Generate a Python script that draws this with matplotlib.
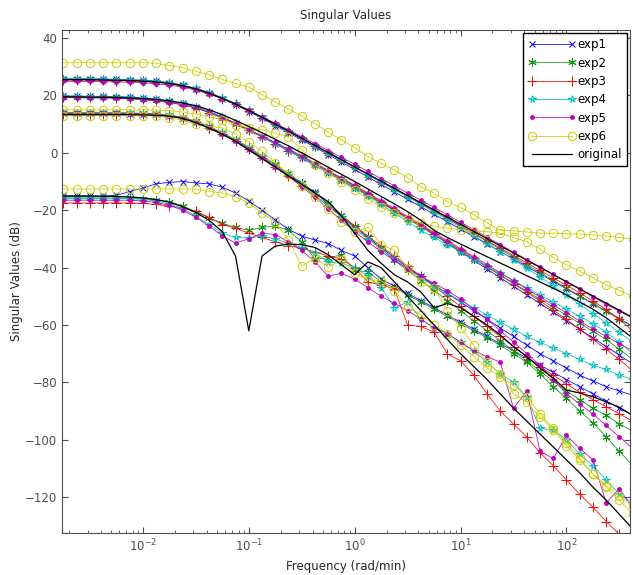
import matplotlib
matplotlib.use('Agg')
import matplotlib.pyplot as plt
import numpy as np

# frequency grid, log10(rad/min)
log_w = [-2.75, -2.625, -2.5, -2.375, -2.25, -2.125, -2.0, -1.875, -1.75, -1.625,
         -1.5, -1.375, -1.25, -1.125, -1.0, -0.875, -0.75, -0.625, -0.5, -0.375,
         -0.25, -0.125, 0.0, 0.125, 0.25, 0.375, 0.5, 0.625, 0.75, 0.875,
         1.0, 1.125, 1.25, 1.375, 1.5, 1.625, 1.75, 1.875, 2.0, 2.125,
         2.25, 2.375, 2.5, 2.625]

# singular values (dB), 4 per model
exp1 = [
    [25.8,25.8,25.8,25.7,25.6,25.5,25.3,25.0,24.4,23.6,22.4,20.8,18.9,16.8,14.4,12.0,9.5,7.0,4.5,2.0,-0.6,-3.2,-5.8,-8.4,-11.0,-13.6,-16.2,-18.8,-21.4,-24.0,-26.6,-29.2,-31.8,-34.4,-37.0,-39.6,-42.2,-44.8,-47.4,-50.0,-52.6,-55.2,-57.8,-60.4],
    [19.8,19.8,19.7,19.7,19.6,19.4,19.1,18.7,18.1,17.2,16.0,14.4,12.5,10.3,8.0,5.6,3.2,0.7,-1.8,-4.4,-7.0,-9.6,-12.2,-14.8,-17.4,-20.0,-22.6,-25.2,-28.5,-31.5,-34.5,-37.5,-40.5,-43.5,-46.5,-49.5,-52.5,-55.5,-58.5,-61.5,-64.5,-67.5,-70.5,-73.5],
    [13.8,13.8,13.8,13.8,13.8,13.7,13.6,13.4,13.0,12.2,10.8,8.9,6.8,4.3,1.5,-1.5,-4.5,-7.5,-10.5,-13.8,-18,-22,-26,-29.5,-33,-36.5,-40,-43,-46,-49,-52,-55,-58,-61,-64,-67,-70,-72.5,-75,-77.5,-79.5,-81.5,-83,-84.5],
    [-15.2,-15.2,-15.2,-15.1,-14.8,-13.5,-12.3,-10.8,-10.3,-10.0,-10.5,-10.8,-12.0,-14.0,-16.8,-20.0,-23.4,-26.7,-29.0,-30.4,-31.6,-34.0,-36.0,-40.0,-44.0,-46.5,-49.0,-51.5,-54.0,-56.5,-59.0,-61.5,-64.0,-66.5,-69.0,-71.5,-74.0,-76.5,-79.0,-81.5,-84.0,-86.5,-89.0,-91.5],
]
exp2 = [
    [25.6,25.6,25.6,25.5,25.4,25.3,25.1,24.8,24.3,23.5,22.4,20.9,19.1,17.1,14.8,12.4,9.9,7.4,4.9,2.4,-0.1,-2.6,-5.1,-7.6,-10.1,-12.6,-15.1,-17.6,-20.1,-22.8,-25.5,-28.2,-30.9,-33.6,-36.3,-39.0,-41.7,-44.4,-47.1,-49.8,-52.5,-55.2,-57.9,-60.6],
    [19.6,19.6,19.5,19.5,19.4,19.2,18.9,18.5,17.9,17.0,15.8,14.2,12.3,10.2,8.0,5.8,3.5,1.2,-1.2,-3.8,-6.4,-9.0,-11.8,-14.6,-17.4,-20.2,-23.0,-25.8,-28.6,-31.4,-34.2,-37.0,-39.8,-42.6,-45.4,-48.2,-51.0,-53.8,-56.6,-59.4,-62.2,-65.0,-68.5,-72.0],
    [14.0,14.0,14.0,14.0,14.0,13.9,13.8,13.6,13.2,12.4,11.0,9.2,7.0,4.6,2.0,-1.0,-4.0,-7.2,-10.5,-14.0,-17.5,-21.5,-25.5,-29.5,-33.5,-37.5,-41.0,-44.5,-48.0,-51.5,-55.0,-58.5,-62.0,-65.5,-69.0,-72.5,-76.0,-79.5,-83.0,-86.0,-89.0,-91.5,-94.5,-97.0],
    [-15.7,-15.7,-15.7,-15.7,-15.7,-15.8,-16.0,-16.4,-17.0,-18.5,-20.5,-22.7,-24.5,-26.0,-27.0,-26.0,-25.5,-27.0,-31.0,-37.0,-36.6,-35.6,-41.0,-41.5,-45.0,-47.0,-49.5,-52.0,-54.5,-57.0,-59.5,-62.0,-64.5,-67.0,-70.0,-73.0,-77.0,-81.5,-85.5,-90.0,-94.0,-99.0,-104.0,-109.0],
]
exp3 = [
    [25.4,25.4,25.4,25.3,25.2,25.1,24.9,24.6,24.1,23.3,22.2,20.7,18.9,16.9,14.6,12.3,9.9,7.5,5.0,2.5,0.0,-2.5,-5.0,-7.5,-10.0,-12.5,-15.0,-17.6,-20.2,-22.8,-25.4,-28.0,-30.6,-33.2,-35.8,-38.4,-41.0,-43.6,-46.2,-48.8,-51.6,-54.6,-58.0,-62.0],
    [19.4,19.4,19.3,19.3,19.2,19.0,18.7,18.3,17.7,16.8,15.6,14.0,12.1,10.0,7.8,5.5,3.2,0.8,-1.6,-4.0,-6.5,-9.0,-11.5,-14.2,-17.0,-19.8,-22.6,-25.4,-28.2,-31.0,-33.8,-36.6,-39.6,-42.6,-45.6,-48.6,-51.6,-54.8,-58.0,-61.5,-65.0,-68.5,-72.0,-76.0],
    [13.6,13.6,13.6,13.6,13.6,13.5,13.4,13.2,12.8,12.0,10.6,8.7,6.5,4.0,1.2,-1.8,-5.0,-8.2,-11.5,-15.0,-18.5,-22.0,-25.5,-29.0,-32.5,-36.0,-39.5,-43.0,-46.5,-50.0,-53.5,-57.0,-60.5,-64.0,-67.5,-71.0,-74.5,-77.5,-80.5,-83.5,-86.0,-88.5,-91.0,-93.5],
    [-17.5,-17.5,-17.5,-17.5,-17.5,-17.5,-17.6,-18.0,-18.6,-19.3,-20.3,-22.5,-25.0,-26.3,-28.0,-29.5,-31.0,-32.3,-33.3,-34.5,-36.0,-37.0,-40.0,-45.0,-46.0,-47.5,-60.0,-60.5,-62.5,-70.0,-72.5,-77.5,-84.0,-90.0,-94.5,-99.0,-104.5,-109.0,-114.0,-119.0,-123.5,-128.5,-133.0,-138.0],
]
exp4 = [
    [25.7,25.7,25.7,25.6,25.5,25.4,25.2,24.9,24.4,23.6,22.5,21.0,19.2,17.2,14.9,12.5,10.0,7.5,5.0,2.5,0.0,-2.5,-5.0,-7.6,-10.2,-12.8,-15.4,-18.0,-20.6,-23.3,-26.0,-28.8,-31.6,-34.4,-37.2,-40.2,-43.2,-46.4,-49.6,-52.8,-56.0,-59.2,-62.6,-66.0],
    [19.7,19.7,19.6,19.6,19.5,19.3,19.0,18.6,18.0,17.1,15.9,14.3,12.4,10.3,8.0,5.7,3.3,0.9,-1.6,-4.2,-6.8,-9.5,-12.3,-15.1,-18.0,-21.0,-24.0,-27.0,-29.5,-32.0,-34.5,-37.0,-39.5,-42.0,-44.5,-47.0,-49.5,-52.0,-54.5,-57.0,-59.5,-62.5,-66.0,-70.0],
    [13.9,13.9,13.9,13.9,13.9,13.8,13.7,13.5,13.1,12.3,10.9,9.0,6.8,4.3,1.6,-1.4,-4.5,-7.8,-11.2,-14.8,-18.5,-22.5,-26.5,-30.0,-33.5,-37.0,-40.5,-43.5,-46.5,-49.0,-51.5,-54.0,-56.5,-59.0,-61.5,-64.0,-66.0,-68.0,-70.0,-72.0,-74.0,-75.5,-77.5,-79.0],
    [-16.0,-16.0,-16.0,-16.0,-16.0,-16.0,-16.2,-16.8,-17.8,-19.5,-22.0,-25.0,-28.0,-29.5,-29.7,-29.0,-30.0,-31.5,-33.0,-35.0,-38.0,-38.5,-40.0,-43.0,-47.0,-54.0,-52.0,-58.0,-61.0,-63.0,-66.0,-69.0,-73.0,-77.0,-80.0,-85.0,-96.0,-96.5,-100.0,-105.0,-109.0,-114.0,-119.0,-122.0],
]
exp5 = [
    [24.9,24.9,24.9,24.8,24.7,24.6,24.4,24.1,23.6,22.9,21.9,20.5,18.8,16.9,14.8,12.6,10.3,8.0,5.6,3.2,0.8,-1.6,-4.0,-6.5,-9.0,-11.5,-14.0,-16.5,-19.0,-21.6,-24.2,-26.8,-29.4,-32.0,-34.6,-37.2,-39.8,-42.4,-45.0,-47.6,-50.2,-52.8,-55.2,-57.6],
    [19.2,19.2,19.1,19.1,19.0,18.8,18.5,18.1,17.5,16.7,15.6,14.1,12.3,10.3,8.1,5.9,3.6,1.3,-1.1,-3.6,-6.1,-8.7,-11.3,-14.0,-16.7,-19.4,-22.2,-25.0,-27.8,-30.6,-33.4,-36.2,-39.0,-41.8,-44.6,-47.4,-50.2,-53.0,-55.8,-58.6,-61.4,-64.0,-66.5,-69.0],
    [13.8,13.8,13.8,13.8,13.8,13.7,13.6,13.4,13.0,12.2,10.8,8.9,6.7,4.2,1.4,-1.6,-4.8,-8.2,-11.8,-15.5,-19.5,-23.5,-27.5,-31.0,-34.5,-37.5,-40.5,-43.0,-45.5,-48.0,-51.0,-54.5,-58.0,-62.0,-66.0,-70.0,-74.0,-79.0,-84.0,-87.5,-91.0,-95.0,-99.0,-103.0],
    [-16.5,-16.5,-16.5,-16.5,-16.5,-16.5,-16.7,-17.3,-18.3,-20.0,-22.5,-25.5,-29.0,-31.4,-30.0,-28.0,-28.5,-31.0,-34.0,-38.0,-43.0,-42.0,-44.0,-47.0,-50.0,-52.4,-55.0,-58.0,-61.0,-63.0,-66.0,-69.0,-71.0,-73.0,-89.0,-83.0,-104.0,-106.5,-98.5,-103.0,-107.0,-122.0,-117.0,-124.0],
]
exp6 = [
    [31.4,31.4,31.4,31.4,31.4,31.4,31.4,31.2,30.4,29.7,28.4,27.2,25.6,24.2,22.9,20.3,17.8,15.2,12.8,10.2,7.2,4.5,1.8,-1.3,-3.6,-6.0,-8.6,-11.8,-14.0,-17.0,-19.0,-21.6,-24.4,-27.0,-27.2,-27.6,-28.0,-28.0,-28.2,-28.3,-28.6,-29.0,-29.5,-30.0],
    [15.0,15.0,15.0,15.0,15.0,15.0,15.0,14.9,14.7,14.2,13.5,12.6,11.5,9.8,8.8,8.0,6.8,5.6,1.0,-4.2,-7.0,-10.0,-13.0,-16.0,-19.0,-21.0,-23.0,-24.5,-25.5,-26.3,-26.8,-27.2,-27.5,-28.0,-29.5,-31.0,-33.5,-36.5,-39.0,-41.2,-43.5,-46.0,-48.0,-50.0],
    [13.0,13.0,13.0,13.0,13.0,13.0,13.0,12.8,12.3,11.3,10.0,9.2,8.7,6.6,3.8,0.5,-3.5,-7.5,-11.5,-15.5,-19.5,-24.0,-27.5,-26.0,-32.0,-34.0,-40.0,-45.0,-47.0,-55.0,-61.0,-67.0,-73.0,-77.0,-84.0,-87.0,-92.0,-96.5,-102.0,-107.0,-112.0,-116.0,-119.5,-123.0],
    [-12.6,-12.6,-12.6,-12.6,-12.6,-12.6,-12.6,-12.6,-12.6,-12.6,-12.6,-13.5,-14.0,-15.3,-17.5,-21.0,-24.0,-30.4,-39.5,-36.6,-39.8,-37.3,-42.0,-44.3,-44.5,-48.0,-53.7,-56.5,-60.0,-63.0,-67.0,-71.0,-75.0,-78.0,-81.0,-85.0,-91.0,-96.0,-101.0,-106.5,-112.0,-116.5,-121.0,-126.0],
]
original = [
    [25.5,25.5,25.5,25.4,25.3,25.2,25.0,24.7,24.2,23.4,22.3,20.8,19.0,17.0,14.7,12.4,10.0,7.6,5.1,2.6,0.1,-2.4,-4.9,-7.4,-9.9,-12.4,-14.9,-17.4,-19.9,-22.4,-24.9,-27.4,-29.9,-32.4,-34.9,-37.4,-39.9,-42.4,-44.9,-47.4,-49.9,-52.4,-54.9,-57.4],
    [19.5,19.5,19.4,19.4,19.3,19.1,18.9,18.6,18.1,17.4,16.4,15.0,13.3,11.3,9.2,7.0,4.7,2.4,0.0,-2.5,-5.0,-7.5,-10.0,-12.6,-15.2,-17.8,-20.5,-23.5,-27.0,-29.5,-31.8,-34.0,-36.2,-38.4,-40.6,-42.8,-45.0,-47.2,-49.5,-52.0,-54.5,-57.5,-61.0,-64.5],
    [13.3,13.3,13.3,13.3,13.3,13.3,13.2,13.1,12.8,12.0,10.5,8.6,6.5,4.0,1.0,-2.0,-5.0,-8.0,-11.0,-14.0,-17.0,-22.0,-28.0,-34.0,-38.5,-42.5,-45.0,-48.5,-54.0,-52.5,-54.0,-57.0,-60.0,-63.5,-67.5,-71.0,-75.0,-78.5,-82.7,-83.7,-85.0,-86.8,-88.7,-91.5],
    [-15.0,-15.0,-15.0,-15.1,-15.2,-15.4,-15.7,-16.3,-17.2,-18.8,-20.8,-23.5,-27.5,-36.0,-62.0,-36.0,-32.5,-31.8,-32.0,-33.0,-35.5,-39.0,-42.5,-38.0,-40.0,-45.0,-50.0,-55.0,-60.0,-65.0,-70.0,-74.5,-79.0,-84.0,-89.0,-93.5,-98.0,-102.5,-107.0,-111.5,-116.5,-121.0,-126.0,-131.0],
]

names = ['exp1', 'exp2', 'exp3', 'exp4', 'exp5', 'exp6', 'original']
models = [exp1, exp2, exp3, exp4, exp5, exp6, original]
colors = [(0, 0, 1), (0.07, 0.6, 0.07), (1, 0, 0), (0, 0.75, 0.75),
          (0.75, 0, 0.75), (0.8, 0.8, 0), (0, 0, 0)]
markers = ['x', (6, 2, 0), '+', '*', '.', 'o', None]
msizes = [4.5, 6, 6.5, 5.5, 5.5, 6, 0]
facecol = [None, None, None, 'none', None, 'none', None]

w = 10 ** np.array(log_w)
tc = '#4d4d4d'

fig = plt.figure(figsize=(6.32, 5.75), dpi=100)
ax = fig.add_axes([0.0981, 0.0730, 0.8987, 0.8748])

handles = []
for name, m, c, mk, ms, fc in zip(names, models, colors, markers, msizes, facecol):
    lw = 0.9 if name == 'original' else 0.55
    for k, sv in enumerate(m):
        kw = dict(color=c, lw=lw, marker=mk, ms=ms, mew=0.7)
        if fc is not None:
            kw['mfc'] = fc
        h, = ax.semilogx(w, sv, **kw)
        if k == 0:
            handles.append(h)

ax.set_xlim(10 ** -2.764, 10 ** 2.60)
ax.set_ylim(-132.5, 42.8)
ax.set_yticks(np.arange(-120, 41, 20))
ax.tick_params(which='both', direction='in', top=True, right=True,
               colors=tc, labelsize=8.5, labelcolor=tc)
ax.tick_params(which='major', length=4)
ax.tick_params(which='minor', length=2.5)
for s in ax.spines.values():
    s.set_color(tc)
    s.set_linewidth(0.8)

ax.set_xlabel('Frequency (rad/min)', fontsize=8.5, color='#262626')
ax.set_ylabel('Singular Values (dB)', fontsize=8.5, color='#262626', labelpad=1)
ax.set_title('Singular Values', fontsize=8.5, color='#262626', pad=8)

leg = ax.legend(handles, names, loc='upper right', numpoints=2, fontsize=8.5,
                handlelength=4.0, labelspacing=0.45, borderaxespad=0.25,
                fancybox=False, framealpha=1, edgecolor='black',
                handletextpad=0.1, borderpad=0.45)
leg.get_frame().set_linewidth(1.0)

fig.savefig('out.png', dpi=100)
